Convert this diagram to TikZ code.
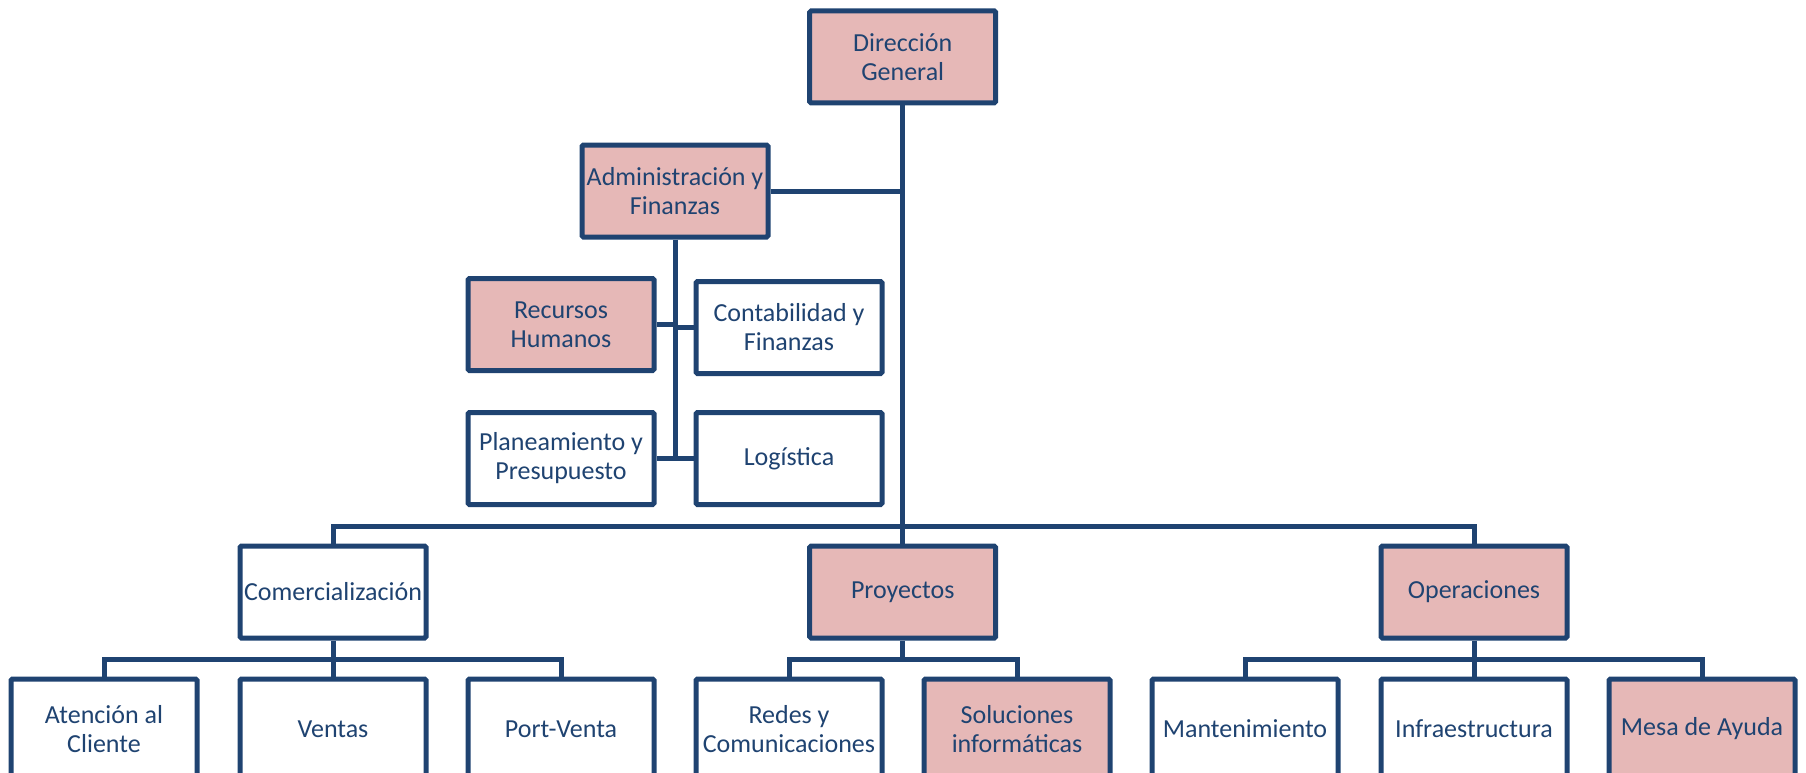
\documentclass[tikz,border=0pt]{standalone}
\usepackage{fontspec}
\setmainfont{Carlito}
\definecolor{orgblue}{RGB}{31,67,113}
\definecolor{orgpink}{RGB}{230,184,183}
\tikzset{
  unit/.style={draw=orgblue, line width=5pt, rounded corners=1.5pt,
    minimum width=186pt, minimum height=92pt, inner sep=0pt,
    align=center, text=orgblue,
    font=\fontsize{26pt}{29pt}\selectfont},
  hl/.style={unit, fill=orgpink},
  pl/.style={unit, fill=white},
  % lowest row runs past the lower page edge
  deep/.style={minimum height=100pt},
  link/.style={draw=orgblue, line width=5pt}
}
\begin{document}
\begin{tikzpicture}[x=1pt, y=-1pt]
\useasboundingbox (0,0) rectangle (1806,773);

% levels of the chart
\node[hl] (dg) at (902.7,57)   {Dirección\\General};
\node[hl] (af) at (675,191)    {Administración y\\Finanzas};
\node[hl] (rh) at (561,324.5)  {Recursos\\Humanos};
\node[pl] (cf) at (789,327.5)  {Contabilidad y\\Finanzas};
\node[pl] (pp) at (561,458.5)  {Planeamiento y\\Presupuesto};
\node[pl] (lo) at (789,458.5)  {Logística};

\node[pl] (co) at (333,592)    {Comercialización};
\node[hl] (pr) at (902.7,592)  {Proyectos};
\node[hl] (op) at (1474,592)   {Operaciones};

\node[pl,deep] (at) at (104,729)    {Atención al\\Cliente};
\node[pl,deep] (ve) at (333,729)    {Ventas};
\node[pl,deep] (pv) at (561,729)    {Port-Venta};
\node[pl,deep] (rc) at (789,729)    {Redes y\\Comunicaciones};
\node[hl,deep] (si) at (1017,729)   {Soluciones\\informáticas};
\node[pl,deep] (mt) at (1245,729)   {Mantenimiento};
\node[pl,deep] (in) at (1474,729)   {Infraestructura};
\node[hl,deep] (ma) at (1702,729)   {Mesa de Ayuda};

% bus heights
\coordinate (busy) at (0,526);
\coordinate (suby) at (0,659);

% top trunk and staff branch
\draw[link] (dg.south) -- (pr.north);
\draw[link] (af.east) -- (af.east -| dg.south);
\draw[link] (af.south) -- (af.south |- lo.west);
\draw[link] (rh.east) -- (rh.east -| af.south);
\draw[link] (cf.west) -- (cf.west -| af.south);
\draw[link] (pp.east) -- (pp.east -| af.south);
\draw[link] (lo.west) -- (lo.west -| af.south);

% main horizontal bus
\draw[link] (co.north) |- (dg.south |- busy) -| (op.north);

% Comercialización group
\draw[link] (co.south) -- (ve.north);
\draw[link] (at.north) |- (co.south |- suby) -| (pv.north);

% Proyectos group
\draw[link] (pr.south) -- (pr.south |- suby);
\draw[link] (rc.north) |- (pr.south |- suby) -| (si.north);

% Operaciones group
\draw[link] (op.south) -- (in.north);
\draw[link] (mt.north) |- (op.south |- suby) -| (ma.north);
\end{tikzpicture}
\end{document}
